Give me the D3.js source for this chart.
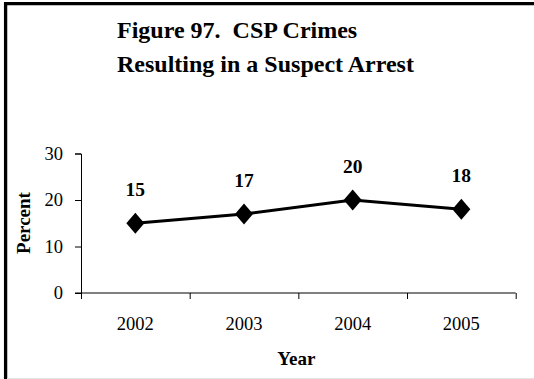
<!DOCTYPE html>
<html><head>
<meta charset="utf-8">
<script src="https://d3js.org/d3.v7.min.js"></script>
<style>
  body { margin: 0; background: #fff; }
  svg text { font-family: "Liberation Serif", "Times New Roman", serif; fill: #000; }
  .title { font-size: 24px; font-weight: bold; white-space: pre; }
  .tick text { font-size: 18.5px; }
  .axis-title { font-size: 19px; font-weight: bold; }
  .value { font-size: 19.5px; font-weight: bold; }
</style>
</head>
<body>
<svg id="chart" width="534" height="379"></svg>
<script>
// data
const years = ["2002", "2003", "2004", "2005"];
const percents = [15, 17, 20, 18];
const yTicks = [0, 10, 20, 30];
const titleLines = ["Figure 97.  CSP Crimes", "Resulting in a Suspect Arrest"];

const svg = d3.select("#chart");

// frame: thick left and top edges, faint bottom edge
svg.append("line")
   .attr("x1", 5.6).attr("x2", 5.6).attr("y1", 2).attr("y2", 379)
   .attr("stroke", "#000").attr("stroke-width", 3.3);
svg.append("line")
   .attr("x1", 4).attr("x2", 534).attr("y1", 3.6).attr("y2", 3.6)
   .attr("stroke", "#000").attr("stroke-width", 3.3);
svg.append("line")
   .attr("x1", 7).attr("x2", 534).attr("y1", 378.5).attr("y2", 378.5)
   .attr("stroke", "#e4e4e4").attr("stroke-width", 1);

// title
svg.selectAll("text.title").data(titleLines)
   .join("text")
   .attr("class", "title")
   .attr("xml:space", "preserve")
   .attr("x", 117)
   .attr("y", (d, i) => 38 + i * 34)
   .text(d => d);

const plot = { left: 81, right: 515.7, top: 153.5, bottom: 293 };

const x = d3.scaleBand().domain(years).range([plot.left, plot.right]).padding(0);
const y = d3.scaleLinear().domain([0, 30]).range([plot.bottom, plot.top]);

// y axis
const yAxis = svg.append("g").attr("transform", "translate(" + plot.left + ",0)")
   .call(d3.axisLeft(y).tickValues(yTicks).tickSize(6).tickPadding(12));
yAxis.attr("font-family", null).attr("font-size", null);
yAxis.select(".domain").attr("stroke", "#000");
yAxis.selectAll(".tick line").attr("stroke", "#000");

// x axis: ticks sit on the band edges
const xAxis = svg.append("g").attr("transform", "translate(0," + plot.bottom + ")");
xAxis.append("line")
   .attr("x1", plot.left - 6).attr("x2", plot.right)
   .attr("stroke", "#000");
const edges = years.map(d => x(d)).concat([x(years[years.length - 1]) + x.bandwidth()]);
xAxis.selectAll("line.edge").data(edges)
   .join("line")
   .attr("class", "edge")
   .attr("x1", d => d + 0.5).attr("x2", d => d + 0.5)
   .attr("y1", 0).attr("y2", 6)
   .attr("stroke", "#000");
xAxis.selectAll("text").data(years)
   .join("text")
   .attr("x", d => x(d) + x.bandwidth() / 2)
   .attr("y", 37)
   .attr("text-anchor", "middle")
   .style("font-size", "18.5px")
   .text(d => d);

// axis titles
svg.append("text").attr("class", "axis-title")
   .attr("x", (plot.left + plot.right) / 2 - 2).attr("y", 365)
   .attr("text-anchor", "middle").text("Year");
svg.append("text").attr("class", "axis-title")
   .attr("transform", "translate(30," + 223 + ") rotate(-90)")
   .attr("text-anchor", "middle").text("Percent");

// line
const pts = years.map((d, i) => ({ year: d, v: percents[i] }));
const cx = d => x(d.year) + x.bandwidth() / 2;
svg.append("path")
   .datum(pts)
   .attr("fill", "none").attr("stroke", "#000").attr("stroke-width", 3)
   .attr("d", d3.line().x(cx).y(d => y(d.v)));

// diamond markers
svg.selectAll("path.marker").data(pts)
   .join("path")
   .attr("class", "marker")
   .attr("d", "M0,-10.5L9,0L0,10.5L-9,0Z")
   .attr("fill", "#000")
   .attr("transform", d => "translate(" + cx(d) + "," + y(d.v) + ")");

// value labels
svg.selectAll("text.value").data(pts)
   .join("text")
   .attr("class", "value")
   .attr("x", cx)
   .attr("y", d => y(d.v) - 27)
   .attr("text-anchor", "middle")
   .text(d => d.v);
</script>
</body>
</html>
